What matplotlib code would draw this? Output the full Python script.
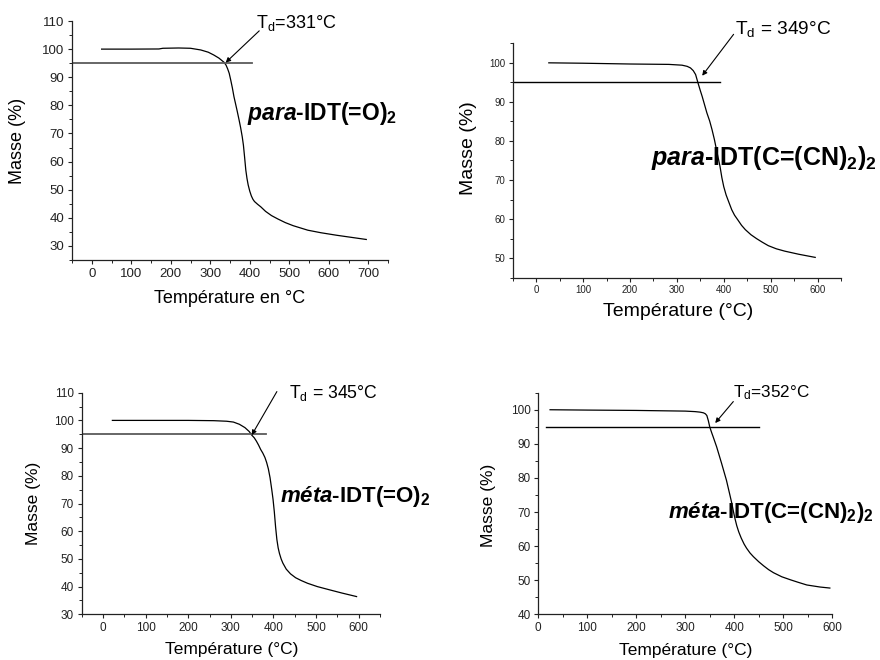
import matplotlib
matplotlib.use('Agg')
import matplotlib.pyplot as plt
from matplotlib.ticker import MultipleLocator

plt.rcParams['font.family'] = ['Liberation Sans', 'DejaVu Sans']
plt.rcParams['mathtext.fontset'] = 'custom'
plt.rcParams['mathtext.rm'] = 'Liberation Sans:bold'
plt.rcParams['mathtext.it'] = 'Liberation Sans:bold:italic'
plt.rcParams['mathtext.bf'] = 'Liberation Sans:bold'

# ---------------- data ----------------
# para-IDT(=O)2
t1 = [25, 100, 170, 180, 220, 250, 276, 295, 309, 322, 335, 340, 344, 348, 352, 356, 360, 364,
      368, 373, 377, 381, 384, 387, 390, 393, 396, 400, 404, 408, 412, 420, 428, 440, 455, 471,
      490, 510, 547, 580, 620, 660, 695]
m1 = [100, 100, 100.05, 100.3, 100.4, 100.3, 99.7, 98.9, 97.9, 96.8, 95.3, 94.3, 93.0, 91.4, 88.9,
      86.2, 83.1, 80.6, 78.1, 74.8, 72.0, 68.8, 65.8, 61.5, 57.0, 54.0, 51.7, 49.5, 47.8, 46.6,
      45.8, 44.8, 43.9, 42.3, 40.8, 39.6, 38.3, 37.2, 35.6, 34.7, 33.8, 33.0, 32.3]
# para-IDT(C=(CN)2)2
t2 = [27, 100, 200, 283, 311, 322, 329, 335, 340, 345, 350, 354, 359, 364, 370, 375, 380, 386,
      392, 396, 400, 405, 410, 417, 423, 430, 438, 446, 458, 470, 482, 495, 512, 530, 560, 595]
m2 = [100, 99.9, 99.7, 99.6, 99.4, 99.1, 98.7, 98.0, 97.0, 94.9, 92.9, 91.4, 89.3, 87.2, 85.1,
      82.9, 80.4, 76.9, 73.5, 70.6, 68.3, 66.2, 64.6, 62.4, 61.0, 59.8, 58.4, 57.3, 56.0, 55.0,
      54.1, 53.2, 52.4, 51.8, 51.0, 50.2]
# méta-IDT(=O)2
t3 = [22, 100, 200, 260, 290, 306, 320, 333, 343, 349, 355, 360, 365, 370, 375, 380, 384, 388,
      392, 396, 399, 402, 405, 408, 411, 414, 418, 422, 430, 440, 452, 465, 480, 503, 530, 560, 595]
m3 = [100, 100, 100, 99.9, 99.7, 99.4, 98.6, 97.4, 96.0, 94.7, 93.7, 92.5, 91.1, 89.5, 88.2, 86.6,
      84.8, 82.5, 79.3, 75.0, 71.5, 67.0, 61.5, 57.0, 54.0, 52.0, 50.0, 48.5, 46.3, 44.6, 43.2,
      42.2, 41.2, 40.0, 38.9, 37.7, 36.4]
# méta-IDT(C=(CN)2)2
t4 = [24, 100, 200, 300, 320, 330, 337, 341, 344, 347, 350, 354, 357, 364, 374, 384, 391, 395,
      398, 401, 405, 409, 414, 420, 425, 432, 439, 450, 460, 470, 480, 497, 515, 530, 548, 575, 595]
m4 = [100, 99.9, 99.8, 99.6, 99.45, 99.3, 99.1, 98.8, 98.3, 96.8, 94.9, 93.2, 92.0, 89.1, 84.3,
      79.3, 75.0, 72.5, 70.3, 68.3, 66.0, 64.2, 62.4, 60.6, 59.4, 58.0, 56.9, 55.4, 54.2, 53.1,
      52.2, 51.0, 50.1, 49.4, 48.6, 48.0, 47.7]

td_labels = [r'T$_\mathregular{d}$=331°C', r'T$_\mathregular{d}$ = 349°C',
             r'T$_\mathregular{d}$ = 345°C', r'T$_\mathregular{d}$=352°C']
compounds = [r'$\mathit{para}\text{-IDT(=O)}_2$',
             r'$\mathit{para}\text{-IDT(C=(CN)}_2\text{)}_2$',
             r'$\mathit{méta}\text{-IDT(=O)}_2$',
             r'$\mathit{méta}\text{-IDT(C=(CN)}_2\text{)}_2$']
xlabels = ['Température en °C', 'Température (°C)', 'Température (°C)', 'Température (°C)']
ylabel = 'Masse (%)'

# ---------------- layout ----------------
W, H = 880, 660
fig = plt.figure(figsize=(W / 100, H / 100), dpi=100)

def axrect(l, r, t, b):
    return [l / W, 1 - b / H, (r - l) / W, (b - t) / H]

panels = [
    dict(rect=axrect(72, 388, 21, 260), t=t1, m=m1, xlim=(-50, 750), ylim=(25, 110),
         ymaj=10, xmaj=100, tick_fs=9.5, lab_fs=13, ylc=(-0.171, 0.5), xlc=(0.5, -0.159),
         hl=(-50, 405), hl_c='#5a5a5a', hl_lw=1.3,
         arrow=((424, 106.5), (339, 95.2)), td_pos=(416, 107.4), td_fs=13,
         comp_pos=(394, 74.8), comp_fs=16.5),
    dict(rect=axrect(512.7, 841, 43.3, 277.7), t=t2, m=m2, xlim=(-50, 650), ylim=(45, 105),
         ymaj=10, xmaj=100, tick_fs=7, lab_fs=14, ylc=(-0.135, 0.552), xlc=(0.503, -0.145),
         hl=(-50, 391), hl_c='black', hl_lw=1.0,
         arrow=((421, 107.3), (354, 96.7)), td_pos=(425, 107.4), td_fs=13.8,
         comp_pos=(244, 73.9), comp_fs=18),
    dict(rect=axrect(81.7, 380, 392.7, 614.3), t=t3, m=m3, xlim=(-50, 650), ylim=(30, 110),
         ymaj=10, xmaj=100, tick_fs=8.5, lab_fs=12.5, ylc=(-0.162, 0.501), xlc=(0.503, -0.161),
         hl=(-50, 382), hl_c='#5a5a5a', hl_lw=1.3,
         arrow=((408, 110.4), (349, 94.7)), td_pos=(436, 108), td_fs=12.7,
         comp_pos=(416, 70.6), comp_fs=16),
    dict(rect=axrect(538.3, 832.3, 392.7, 614.3), t=t4, m=m4, xlim=(0, 600), ylim=(40, 105),
         ymaj=10, xmaj=100, tick_fs=8.5, lab_fs=12.5, ylc=(-0.17, 0.493), xlc=(0.502, -0.164),
         hl=(16, 450), hl_c='black', hl_lw=1.0,
         arrow=((398, 102.4), (361, 96.1)), td_pos=(398, 103.7), td_fs=12.3,
         comp_pos=(265, 68.3), comp_fs=16),
]

for i, p in enumerate(panels):
    ax = fig.add_axes(p['rect'])
    ax.plot(p['t'], p['m'], color='black', lw=0.9)
    ax.plot(p['hl'], [95, 95], color=p['hl_c'], lw=p['hl_lw'])
    ax.set_xlim(*p['xlim'])
    ax.set_ylim(*p['ylim'])
    ax.xaxis.set_major_locator(MultipleLocator(p['xmaj']))
    ax.xaxis.set_minor_locator(MultipleLocator(p['xmaj'] / 2))
    ax.yaxis.set_major_locator(MultipleLocator(p['ymaj']))
    ax.yaxis.set_minor_locator(MultipleLocator(p['ymaj'] / 2))
    for s in ('top', 'right'):
        ax.spines[s].set_visible(False)
    for s in ('left', 'bottom'):
        ax.spines[s].set_linewidth(0.9)
        ax.spines[s].set_color('#222222')
    ax.tick_params(which='major', direction='out', length=3, width=0.8, color='#222222',
                   labelsize=p['tick_fs'], pad=2.5, labelcolor='#222222')
    ax.tick_params(which='minor', direction='out', length=2, width=0.7, color='#222222')
    ax.set_ylabel(ylabel, fontsize=p['lab_fs'], va='center')
    ax.set_xlabel(xlabels[i], fontsize=p['lab_fs'], va='center')
    ax.yaxis.set_label_coords(*p['ylc'])
    ax.xaxis.set_label_coords(*p['xlc'])
    ax.patch.set_alpha(0)
    (x0, y0), (x1, y1) = p['arrow']
    ax.annotate('', xy=(x1, y1), xytext=(x0, y0), annotation_clip=False,
                arrowprops=dict(arrowstyle='-|>', color='black', lw=0.8,
                                mutation_scale=7, shrinkA=0, shrinkB=0))
    ax.text(p['td_pos'][0], p['td_pos'][1], td_labels[i], fontsize=p['td_fs'],
            ha='left', va='baseline', clip_on=False)
    ax.text(p['comp_pos'][0], p['comp_pos'][1], compounds[i], fontsize=p['comp_fs'],
            ha='left', va='baseline', clip_on=False)

fig.savefig('out.png', dpi=100)
